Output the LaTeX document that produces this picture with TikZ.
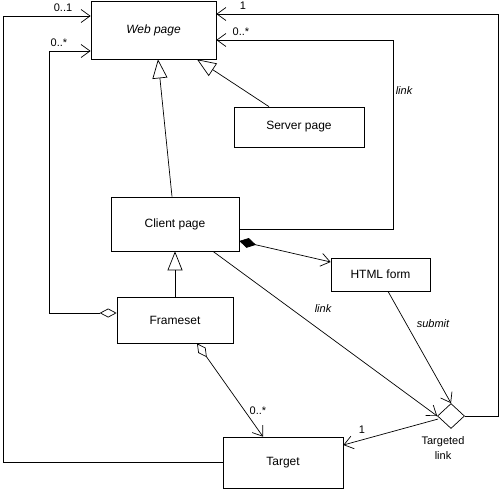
\documentclass[tikz,border=0pt]{standalone}
\usepackage{fontspec}
\setmainfont{Liberation Sans}
\usetikzlibrary{arrows.meta,calc,shapes.geometric}
\begin{document}
\begin{tikzpicture}[x=1pt,y=-1pt,
  line width=0.7pt,
  cls/.style={draw, rectangle, inner sep=0pt, font=\fontsize{12}{14}\selectfont},
  lbl/.style={font=\fontsize{11}{13}\selectfont, inner sep=0pt},
  nav/.style={-{Straight Barb[length=9pt,width=13pt,line width=0.7pt]}},
  gen/.style={-{Triangle[open,length=19pt,width=15pt,line width=0.7pt]}},
  aggnav/.style={{Diamond[open,length=17pt,width=9pt,line width=0.7pt]}-{Straight Barb[length=9pt,width=13pt,line width=0.7pt]}},
  compnav/.style={{Diamond[length=17pt,width=10pt]}-{Straight Barb[length=9pt,width=13pt,line width=0.7pt]}}
]
\useasboundingbox (0,0) rectangle (500,490);
\node[cls, minimum width=125pt, minimum height=58pt, font=\fontsize{12}{14}\selectfont\itshape] (web) at (153.5,30) {Web page};
\node[cls, minimum width=130pt, minimum height=40pt] (server) at (299,127) {Server page};
\node[cls, minimum width=128pt, minimum height=54pt] (client) at (175,224) {Client page};
\node[cls, minimum width=99pt, minimum height=33pt] (html) at (380.5,274.5) {HTML form};
\node[cls, minimum width=116pt, minimum height=46pt] (frameset) at (175,320) {Frameset};
\node[cls, minimum width=120pt, minimum height=51pt] (target) at (283,462.5) {Target};
\node[draw, diamond, inner sep=0pt, minimum width=27pt, minimum height=25pt] (tl) at (451,416) {};
\node[lbl, align=center, font=\fontsize{11}{15}\selectfont] (tllabel) at (443,448) {Targeted\\link};

\coordinate (c1) at (393,40);
\coordinate (c2) at (498,14);
\coordinate (c3) at (3,16);
\coordinate (c4) at (49,51);

% generalizations
\draw[gen] ($(client.north)+(-3,0)$) -- ($(web.south)+(4.5,0)$);
\draw[gen] ($(server.north)+(-30,0)$) -- ($(web.south)+(43.5,0)$);
\draw[gen] (frameset.north) -- (client.south);

% link self association
\draw[nav] ($(client.east)+(0,5)$) -| (c1) -- ($(web.east)+(0,10)$);
% targeted link to web page
\draw[nav] (tl.east) -| (c2) -- ($(web.east)+(0,-16)$);
% target to web page
\draw[nav] (target.west) -| (c3) -- ($(web.west)+(0,-14)$);
% frameset aggregation to web page
\draw[aggnav] ($(frameset.west)+(0,-7)$) -| (c4) -- ($(web.west)+(0,21)$);
% composition client -> html form
\draw[compnav] ($(client.east)+(0,17)$) -- ($(html.west)+(0,-12.5)$);
% link client -> targeted link
\draw[nav] ($(client.south)+(38,0)$) -- (tl.west);
% submit
\draw[nav] ($(html.south)+(7.5,0)$) -- (tl.north);
% targeted link -> target
\draw[nav] ($(tl.west)+(1,3)$) -- ($(target.east)+(0,-17.5)$);
% frameset aggregation -> target
\draw[aggnav] ($(frameset.south)+(22,0)$) -- ($(target.north)+(-20,0)$);

% labels
\node[lbl] (l01) at (63,8) {0..1};
\node[lbl] (l0s) at (59,43) {0..*};
\node[lbl] (r1) at (243,6) {1};
\node[lbl] (r0s) at (241,32) {0..*};
\node[lbl, font=\fontsize{11}{13}\selectfont\itshape] (llink) at (404,91) {link};
\node[lbl, font=\fontsize{11}{13}\selectfont\itshape] (llink2) at (323,309) {link};
\node[lbl, font=\fontsize{11}{13}\selectfont\itshape] (lsub) at (433,324) {submit};
\node[lbl] (t0s) at (258,411) {0..*};
\node[lbl] (t1) at (362,430) {1};
\end{tikzpicture}
\end{document}
